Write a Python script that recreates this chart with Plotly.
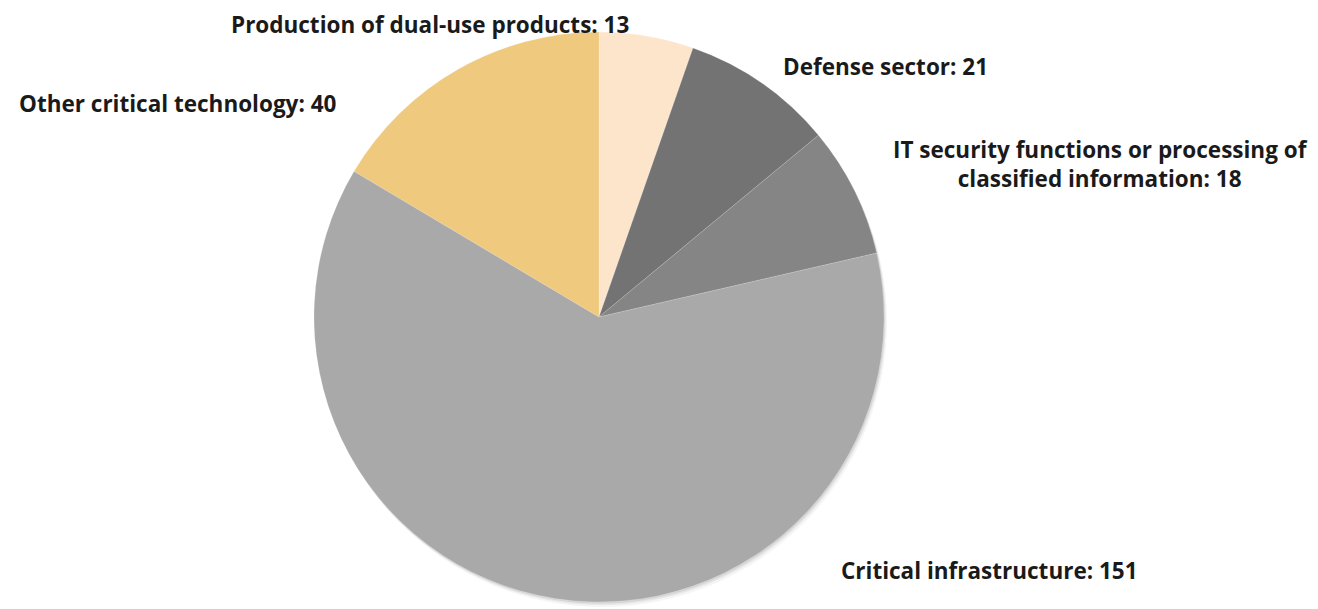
import plotly.graph_objects as go

categories = [
    "Production of dual-use products",
    "Defense sector",
    "IT security functions or processing of<br>classified information",
    "Critical infrastructure",
    "Other critical technology",
]
values = [13, 21, 18, 151, 40]
colors = ["#FDE5CC", "#737373", "#858585", "#A9A9A9", "#EFC97E"]

W, H = 1318, 609
OFF = 8  # page body margin
# label centers in pixels (x, y from top) in the screenshot
label_pos = [(430, 24), (885, 67), (1100, 164), (990, 570), (178, 103)]

# target centre / radius in the screenshot
cx, cy, r = 599 - OFF, 316 - OFF + 1, 285


def dom(dx=0, dy=0):
    return dict(x=[(cx - r + dx) / W, (cx + r + dx) / W],
                y=[1 - (cy + r + dy) / H, 1 - (cy - r + dy) / H])


fig = go.Figure()
# soft shadow layers
for off, alpha in [(5, 0.04), (3, 0.06), (1.5, 0.08)]:
    fig.add_trace(go.Pie(
        values=[1], labels=["shadow"], sort=False,
        marker=dict(colors=[f"rgba(0,0,0,{alpha})"], line=dict(width=0)),
        textinfo="none", hoverinfo="skip", showlegend=False,
        domain=dom(off * 0.6, off),
    ))

fig.add_trace(go.Pie(
    labels=categories,
    values=values,
    sort=False,
    direction="clockwise",
    rotation=0,
    marker=dict(colors=colors, line=dict(color="rgba(255,255,255,0.35)", width=0.5)),
    textinfo="none",
    hoverinfo="label+value",
    showlegend=False,
    domain=dom(),
))

for name, v, (px, py) in zip(categories, values, label_pos):
    fig.add_annotation(
        x=(px - OFF) / W, y=min(1.0, 1 - (py - OFF - 16) / H), xref="paper", yref="paper",
        text=f"<b>{name}: {v}</b>", showarrow=False,
        xanchor="center", yanchor="top", align="center", borderpad=0,
        font=dict(family="Open Sans", size=22.5, color="#1A1A1A"),
    ) if py < 40 else fig.add_annotation(
        x=(px - OFF) / W, y=1 - (py - OFF) / H, xref="paper", yref="paper",
        text=f"<b>{name}: {v}</b>", showarrow=False,
        xanchor="center", yanchor="middle", align="center", borderpad=0,
        font=dict(family="Open Sans", size=22.5, color="#1A1A1A"),
    )

fig.update_layout(
    width=W, height=H,
    margin=dict(l=0, r=0, t=0, b=0),
    paper_bgcolor="white", plot_bgcolor="white",
)
fig.write_html("out.html")
